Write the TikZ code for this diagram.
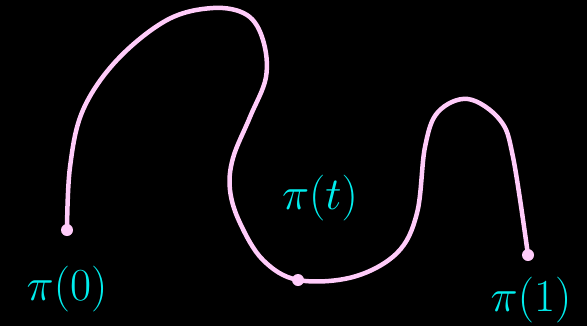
\RequirePackage{fix-cm}
\documentclass[tikz,border=0pt]{standalone}
\usepackage{xcolor}
\usepackage{tikz}
\usetikzlibrary{positioning}
\definecolor{pathpink}{RGB}{255,204,250}
\definecolor{labcyan}{RGB}{0,238,238}
\tikzstyle{dot} = [circle, fill=pathpink, inner sep=0pt, minimum size=12bp]
\tikzstyle{plabel} = [inner sep=0pt, text=labcyan, font=\fontsize{46}{52}\selectfont]
\tikzstyle{curve} = [pathpink, line width=4.5bp, line cap=round]

\begin{document}
\begin{tikzpicture}[x=1bp, y=-1bp]
    \fill[black] (0,0) rectangle (587,326);
    \useasboundingbox (0,0) rectangle (587,326);

    \draw [curve] plot[smooth, tension=0.6] coordinates {
        (67,230) (70,167) (83,110) (117,60) (167,20) (213,8) (247,15)
        (263,40) (266,77) (250,117) (233,158) (230,190) (240,223)
        (263,260) (298,280) (353,277) (397,253) (417,213) (425,147)
        (438,112) (468,99) (500,120) (513,157) (528,255)};

    \node (p0) [dot] at (67,230) {};
    \node (pt) [dot] at (298,280) {};
    \node (p1) [dot] at (528,255) {};

    \node (lab0) [plabel, below=30bp of p0] {$\pi(0)$};
    \node (labt) [plabel, above=53bp of pt, xshift=22bp] {$\pi(t)$};
    \node (lab1) [plabel, below=16bp of p1, xshift=3bp] {$\pi(1)$};
\end{tikzpicture}
\end{document}
